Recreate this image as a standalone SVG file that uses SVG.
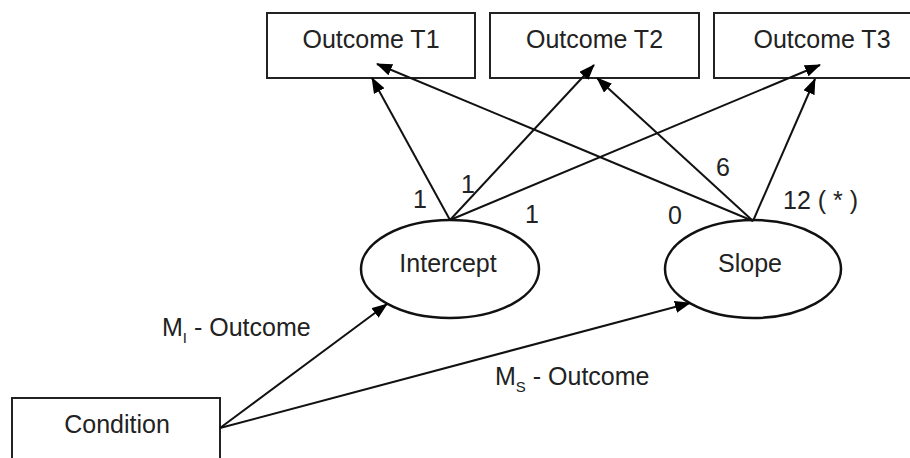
<svg xmlns="http://www.w3.org/2000/svg" width="910" height="458" viewBox="0 0 910 458">
<style>
.box{fill:#fff;stroke:#222;stroke-width:2}
.ell{fill:#fff;stroke:#111;stroke-width:2.5}
.lbl{font-family:"Liberation Sans",Arial,sans-serif;font-size:25px;fill:#222}
.c{text-anchor:middle}
.edge{stroke:#111;stroke-width:2;fill:none;marker-end:url(#ah)}
.sub{font-size:15px}
</style>
<defs>
<marker id="ah" markerUnits="userSpaceOnUse" markerWidth="16" markerHeight="12" refX="15" refY="6" orient="auto" viewBox="0 0 16 12">
<path d="M0,0 L16,6 L0,12 z" fill="#000"/>
</marker>
</defs>
<rect width="910" height="458" fill="#fff"/>
<g id="outcomeT1"><rect class="box" x="267" y="13" width="208" height="65"/><text class="lbl c" x="371" y="48">Outcome T1</text></g>
<g id="outcomeT2"><rect class="box" x="490" y="13" width="209" height="65"/><text class="lbl c" x="594.5" y="48">Outcome T2</text></g>
<g id="outcomeT3"><rect class="box" x="714" y="13" width="216" height="65"/><text class="lbl c" x="822" y="48">Outcome T3</text></g>
<g id="intercept"><ellipse class="ell" cx="450" cy="269" rx="89" ry="49"/><text class="lbl c" x="448" y="272">Intercept</text></g>
<g id="slope"><ellipse class="ell" cx="753" cy="269" rx="88" ry="49"/><text class="lbl c" x="750" y="272">Slope</text></g>
<g id="condition"><rect class="box" x="12" y="398" width="208" height="80"/><text class="lbl c" x="117" y="433">Condition</text></g>
<g id="connectors">
<line class="edge" x1="450" y1="220" x2="372" y2="78"/>
<line class="edge" x1="450" y1="220" x2="594" y2="65"/>
<line class="edge" x1="450" y1="220" x2="820" y2="65"/>
<line class="edge" x1="753" y1="221" x2="377" y2="64"/>
<line class="edge" x1="753" y1="221" x2="597" y2="78"/>
<line class="edge" x1="753" y1="221" x2="815" y2="79"/>
<line class="edge" x1="220" y1="428" x2="387" y2="304"/>
<line class="edge" x1="220" y1="428" x2="690" y2="303"/>
</g>
<g id="labels">
<text class="lbl c" x="420" y="208">1</text>
<text class="lbl c" x="468" y="193">1</text>
<text class="lbl c" x="532" y="223">1</text>
<text class="lbl c" x="675" y="224">0</text>
<text class="lbl c" x="723" y="176">6</text>
<text class="lbl" x="783" y="209">12 ( * )</text>
<text class="lbl" x="162" y="336">M<tspan class="sub" dy="7">I</tspan><tspan dy="-7"> - Outcome</tspan></text>
<text class="lbl" x="495" y="385">M<tspan class="sub" dy="7">S</tspan><tspan dy="-7"> - Outcome</tspan></text>
</g>
</svg>
